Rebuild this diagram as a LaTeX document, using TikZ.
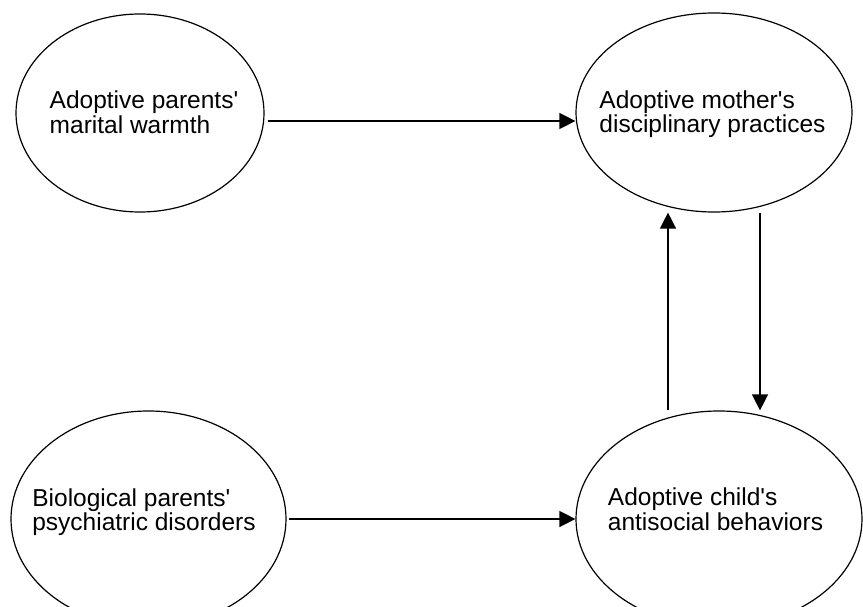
\documentclass[tikz,border=0pt]{standalone}
\usepackage{fontspec}
\setmainfont{Liberation Sans}
\usetikzlibrary{arrows.meta,shapes.geometric}
\begin{document}
\begin{tikzpicture}[x=1pt,y=-1pt,
  oval/.style={draw,ellipse,line width=1.2pt,inner sep=0pt},
  lbl/.style={align=left,inner sep=0pt,font=\fontsize{24.5}{24.5}\selectfont},
  arr/.style={line width=1.4pt,-{Triangle[length=16pt,width=16pt]}}]
\useasboundingbox[fill=white] (0,0) rectangle (863,607);
\node[oval,minimum width=248pt,minimum height=198pt] (tl) at (140,113) {};
\node[oval,minimum width=276pt,minimum height=199pt] (tr) at (714,112.5) {};
\node[oval,minimum width=275pt,minimum height=216pt] (bl) at (148.5,519) {};
\node[oval,minimum width=286pt,minimum height=216pt] (br) at (719,519) {};
\node[lbl] (tlt) at (144,112) {Adoptive parents\textquotesingle\\marital warmth};
\node[lbl] (trt) at (712.5,114) {Adoptive mother\textquotesingle s\\disciplinary practices};
\node[lbl] (blt) at (144,512) {Biological parents\textquotesingle\\psychiatric disorders};
\node[lbl] (brt) at (715.5,509) {Adoptive child\textquotesingle s\\antisocial behaviors};
\draw[arr,shorten <=3pt] ([yshift=-8pt]tl.east) -- ([yshift=-8pt]tl.east -| tr.west);
\draw[arr,shorten <=2pt] (bl.east) -- (br.west);
\draw[arr] ([xshift=-51pt]br.north) -- ([xshift=-51pt]br.north |- tr.south);
\draw[arr] ([xshift=41pt]br.north |- tr.south) -- ([xshift=41pt]br.north);
\end{tikzpicture}
\end{document}
